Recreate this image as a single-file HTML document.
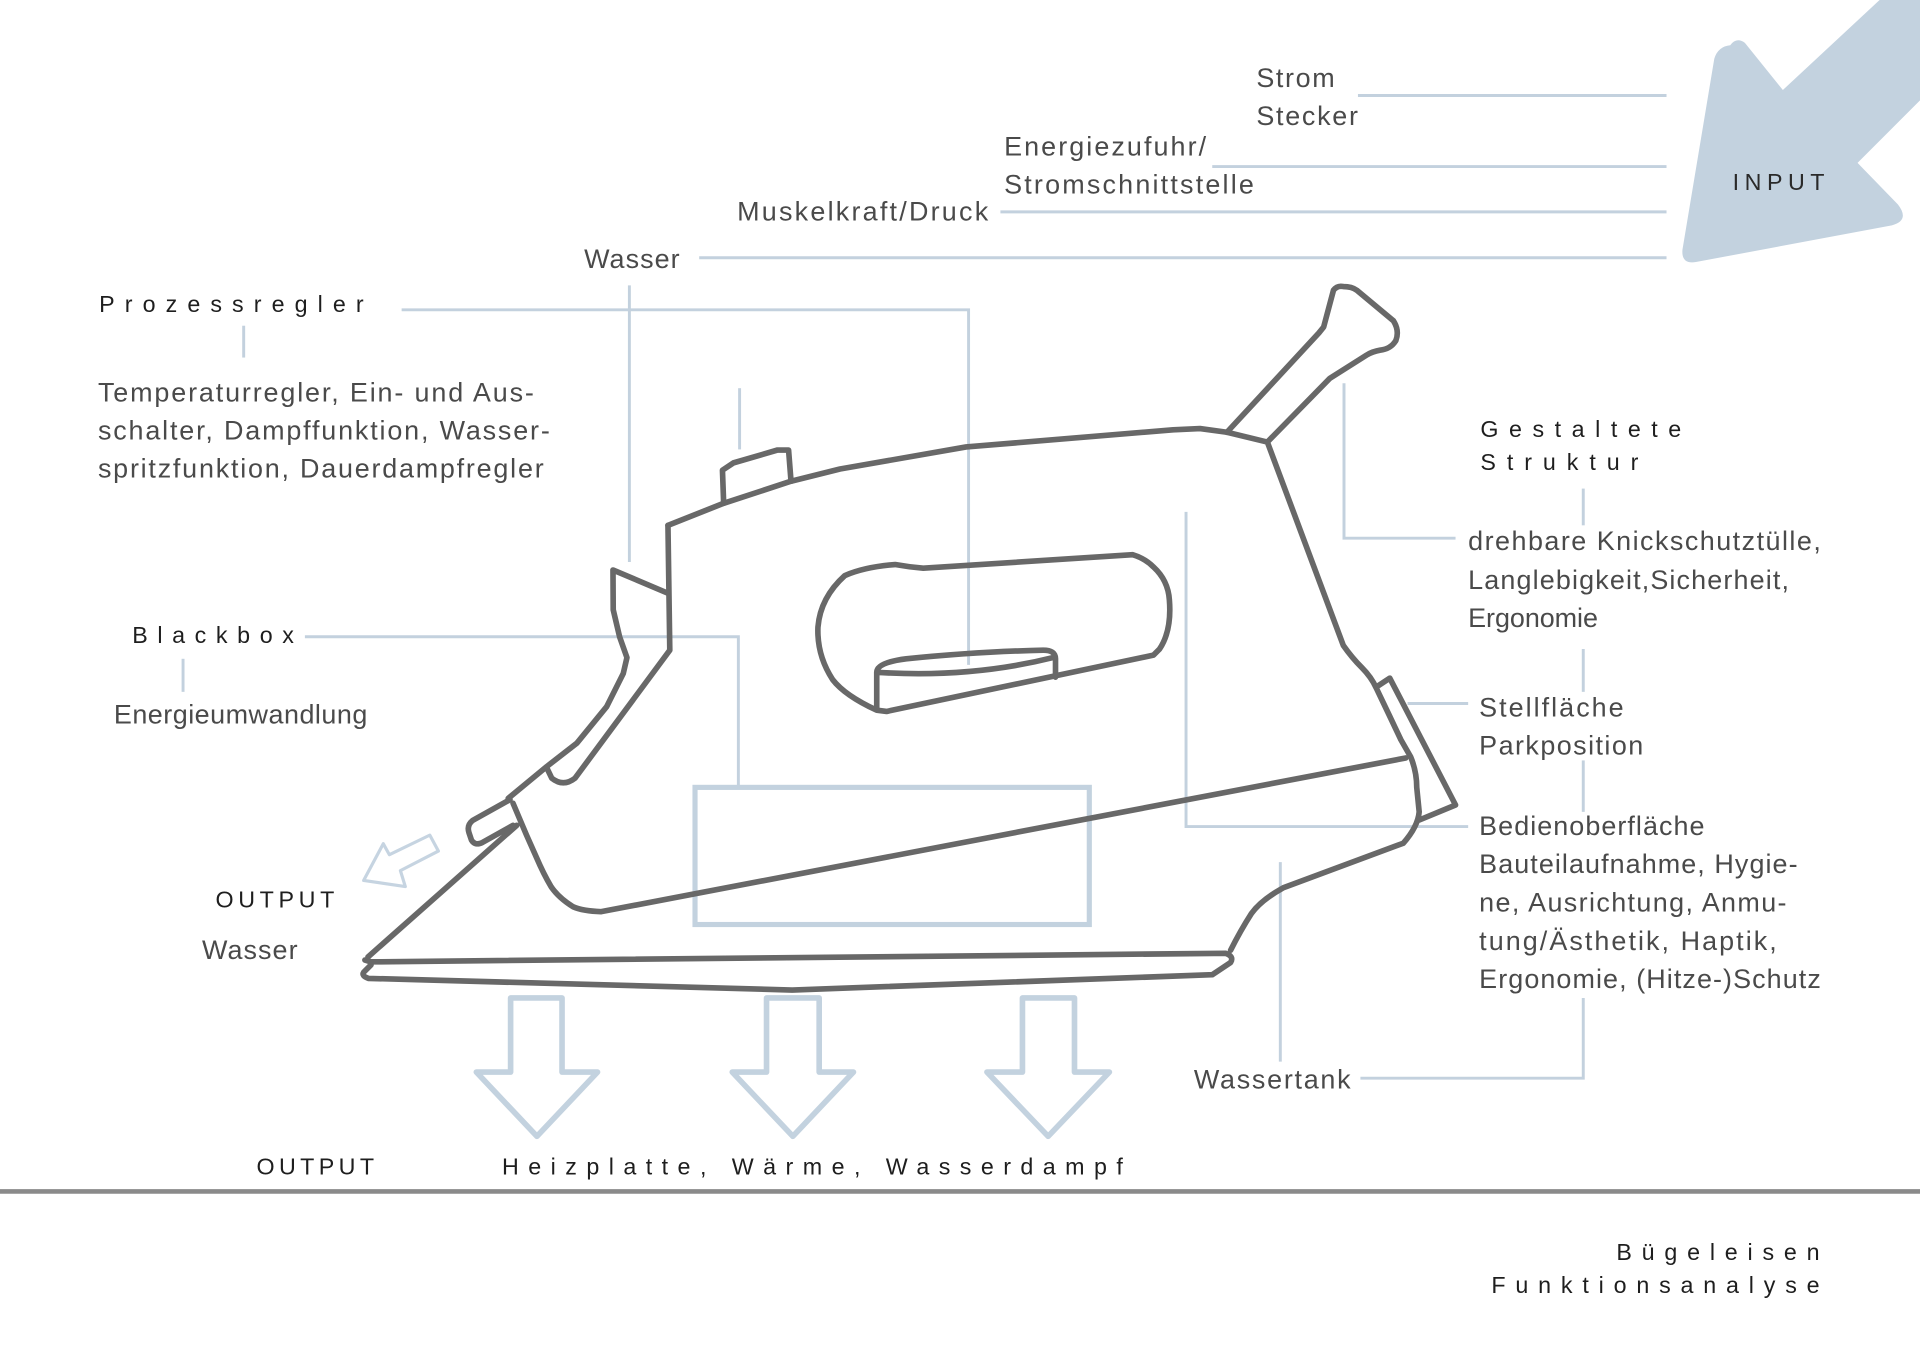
<!DOCTYPE html>
<html>
<head>
<meta charset="utf-8">
<style>
  html,body{margin:0;padding:0;background:#fff;}
  body{width:1920px;height:1358px;overflow:hidden;}
  svg{display:block;}
  .t{font-family:"Liberation Sans",sans-serif;font-size:22px;fill:#4a4a4a;}
  .h{font-family:"Liberation Sans",sans-serif;font-size:19px;fill:#1e1e1e;}
  .c{stroke:#c3d1de;stroke-width:2.4;fill:none;}
  .iron{stroke:#686868;stroke-width:4.6;fill:none;stroke-linejoin:round;stroke-linecap:round;}
  .ar{stroke:#c3d2df;stroke-width:4.6;fill:none;stroke-linejoin:round;}
</style>
</head>
<body>
<svg width="1920" height="1358" viewBox="0 0 1568 1109" preserveAspectRatio="none" xmlns="http://www.w3.org/2000/svg">
  <rect x="0" y="0" width="1568" height="1109" fill="#fff"/>

  <!-- INPUT arrow -->
  <path d="M1413,37 Q1418,30 1425,35 L1456,73.5 L1535,0 L1568,0 L1568,82 L1517,133 L1550,167 Q1560,180 1545,184 L1385,214 Q1373,216 1374,204 L1400,48 Q1403,38 1413,37 Z" fill="#c3d2df"/>
  <text class="h" x="1415" y="155" textLength="75" lengthAdjust="spacing" style="font-size:19px;fill:#2a2a2a">INPUT</text>

  <!-- Input lines -->
  <line class="c" x1="1109" y1="78" x2="1361" y2="78"/>
  <line class="c" x1="990" y1="136" x2="1361" y2="136"/>
  <line class="c" x1="817" y1="173" x2="1361" y2="173"/>
  <line class="c" x1="571" y1="210.5" x2="1361" y2="210.5"/>

  <!-- Input texts -->
  <text class="t" x="1026" y="71" textLength="64" lengthAdjust="spacing">Strom</text>
  <text class="t" x="1026" y="102" textLength="83" lengthAdjust="spacing">Stecker</text>
  <text class="t" x="820" y="127" textLength="165" lengthAdjust="spacing">Energiezufuhr/</text>
  <text class="t" x="820" y="158" textLength="204" lengthAdjust="spacing">Stromschnittstelle</text>
  <text class="t" x="602" y="180" textLength="205" lengthAdjust="spacing">Muskelkraft/Druck</text>
  <text class="t" x="477" y="219" textLength="78" lengthAdjust="spacing">Wasser</text>

  <!-- Wasser vertical -->
  <line class="c" x1="514" y1="233" x2="514" y2="459"/>

  <!-- Prozessregler -->
  <text class="h" x="81" y="255" textLength="216" lengthAdjust="spacing">Prozessregler</text>
  <line class="c" x1="199" y1="266" x2="199" y2="292"/>
  <polyline class="c" points="328,253 791,253 791,543"/>
  <text class="t" x="80" y="328" textLength="356" lengthAdjust="spacing">Temperaturregler, Ein- und Aus-</text>
  <text class="t" x="80" y="359" textLength="369" lengthAdjust="spacing">schalter, Dampffunktion, Wasser-</text>
  <text class="t" x="80" y="390" textLength="364" lengthAdjust="spacing">spritzfunktion, Dauerdampfregler</text>

  <!-- short vertical above button -->
  <line class="c" x1="604" y1="317" x2="604" y2="367"/>

  <!-- Blackbox -->
  <text class="h" x="108" y="525" textLength="132" lengthAdjust="spacing">Blackbox</text>
  <line class="c" x1="149.5" y1="538" x2="149.5" y2="565"/>
  <text class="t" x="93" y="591" textLength="207" lengthAdjust="spacing">Energieumwandlung</text>
  <polyline class="c" points="249,520 603,520 603,643"/>
  <rect x="567.6" y="643" width="322" height="112" fill="none" stroke="#c3d2df" stroke-width="4.2"/>

  <!-- Gestaltete Struktur -->
  <text class="h" x="1209" y="357" textLength="164" lengthAdjust="spacing">Gestaltete</text>
  <text class="h" x="1209" y="384" textLength="129" lengthAdjust="spacing">Struktur</text>
  <line class="c" x1="1293" y1="399" x2="1293" y2="429"/>
  <polyline class="c" points="1097.6,313 1097.6,439.5 1188.7,439.5"/>
  <text class="t" x="1199" y="449" textLength="288" lengthAdjust="spacing">drehbare Knickschutztülle,</text>
  <text class="t" x="1199" y="481" textLength="262" lengthAdjust="spacing">Langlebigkeit,Sicherheit,</text>
  <text class="t" x="1199" y="512" textLength="106" lengthAdjust="spacing">Ergonomie</text>
  <line class="c" x1="1293" y1="530" x2="1293" y2="565"/>

  <!-- Stellfläche -->
  <line class="c" x1="1149.5" y1="574.5" x2="1199" y2="574.5"/>
  <text class="t" x="1208" y="585" textLength="118" lengthAdjust="spacing">Stellfläche</text>
  <text class="t" x="1208" y="616" textLength="134" lengthAdjust="spacing">Parkposition</text>
  <line class="c" x1="1293" y1="621" x2="1293" y2="663"/>

  <!-- Bedienoberfläche -->
  <polyline class="c" points="968.6,418 968.6,675 1199,675"/>
  <text class="t" x="1208" y="682" textLength="184" lengthAdjust="spacing">Bedienoberfläche</text>
  <text class="t" x="1208" y="713" textLength="260" lengthAdjust="spacing">Bauteilaufnahme, Hygie-</text>
  <text class="t" x="1208" y="744.5" textLength="251" lengthAdjust="spacing">ne, Ausrichtung, Anmu-</text>
  <text class="t" x="1208" y="776" textLength="243" lengthAdjust="spacing">tung/Ästhetik, Haptik,</text>
  <text class="t" x="1208" y="807" textLength="279" lengthAdjust="spacing">Ergonomie, (Hitze-)Schutz</text>

  <!-- Wassertank -->
  <line class="c" x1="1045.6" y1="704" x2="1045.6" y2="867"/>
  <polyline class="c" points="1111,880.5 1293,880.5 1293,815"/>
  <text class="t" x="975" y="889" textLength="128" lengthAdjust="spacing">Wassertank</text>

  <!-- Output left -->
  <polygon points="297,719 313,689 318,698 351,682 358,695 327,711 331,724" fill="none" stroke="#c6d4e1" stroke-width="2.6" stroke-linejoin="round"/>
  <text class="h" x="176" y="741" textLength="97" lengthAdjust="spacing">OUTPUT</text>
  <text class="t" x="165" y="783" textLength="78" lengthAdjust="spacing">Wasser</text>

  <!-- Down arrows -->
  <path class="ar" d="M417,815 L459,815 L459,875.5 L488,875.5 L438.5,928 L389,875.5 L417,875.5 Z"/>
  <path class="ar" d="M626,815 L669,815 L669,875.5 L697,875.5 L647.5,928 L598,875.5 L626,875.5 Z"/>
  <path class="ar" d="M835,815 L877.5,815 L877.5,875.5 L906,875.5 L856,928 L806,875.5 L835,875.5 Z"/>

  <!-- Bottom output text -->
  <text class="h" x="209.5" y="959" textLength="96" lengthAdjust="spacing">OUTPUT</text>
  <text class="h" x="410" y="959" textLength="507" lengthAdjust="spacing">Heizplatte, Wärme, Wasserdampf</text>

  <!-- Rule -->
  <line x1="0" y1="973" x2="1568" y2="973" stroke="#8a8a8a" stroke-width="3.8"/>

  <!-- Title -->
  <text class="h" x="1320" y="1029" textLength="166" lengthAdjust="spacing">Bügeleisen</text>
  <text class="h" x="1218" y="1056" textLength="268" lengthAdjust="spacing">Funktionsanalyse</text>

  <!-- ===== IRON ===== -->
  <!-- body top + back -->
  <path class="iron" d="M545.5,429 L591,411 L646,393 L686,383 L789,365 L958,351 L980,350 L1002,353 L1035,361 L1097,527 Q1104,537 1112,545 Q1120,553 1124,562 L1135,585 L1144,604 L1152,618 Q1157,630 1157,643 L1159,663 Q1158,675 1146,688.6 L1048,725 Q1030,735 1022,746 Q1013,760 1005,776"/>
  <!-- soleplate -->
  <path class="iron" d="M1001,778.5 L303,785.5 L298,784 M1001,778.5 Q1008,781 1005,786 L990,796 L647,808.5 L301,799 Q295,797 297,794 L303,788"/>
  <!-- soleplate slope -->
  <path class="iron" d="M422,674 L300.5,781.5"/>
  <!-- body bottom line -->
  <path class="iron" d="M1148,619 L491,744.5 Q476,744 468,740.5 Q456,733 450,724 Q444,714 438,700 L430,682 L419,656"/>
  <!-- front vertical and inner diagonal -->
  <path class="iron" d="M545.5,429 L547,531 L469.6,635.5 Q460,643 450.6,635.5 L446.5,627"/>
  <!-- wedge and front left line -->
  <path class="iron" d="M545.6,484.5 L500.6,465.5 L500.8,498 L506,520 L512,537 L509,550 L495.5,577 L471,607 L446.5,626 L415,652"/>
  <!-- nozzle -->
  <path class="iron" d="M416.5,653 L386,670 Q381,674 383,680 L385,686 Q388,691 394,688 L419,674"/>
  <!-- button -->
  <path class="iron" d="M591,411 L590,384 L599,378 L635,367.5 L644,367.5 L646,393"/>
  <!-- handle -->
  <path class="iron" d="M731,461 Q742,463 754,464 L925,453 Q935,456 942,463 Q954,474 955,490 Q957,515 947,530 L942,535 L724,581 L716,580 Q690,568 680,555 Q667,535 668,512 Q670,488 690,470 Q706,463 731,461 Z"/>
  <!-- cylinder in handle -->
  <path class="iron" d="M716,549 L716,578 M716,549 Q716,541 740,538 Q800,532 852,531 Q862,531 862,538 L862,553 M716,549 Q792,554 860,537"/>
  <!-- cord guard -->
  <path class="iron" d="M1002,353 L1077,272 L1081,267 L1089,237 Q1092,233 1097,234 Q1104,234 1108,237 L1138,262 Q1143,270 1140,278 Q1136,285 1127,286 Q1121,287 1116,290 L1086,309 L1035,361"/>
  <!-- parking plate -->
  <path class="iron" d="M1124,561 L1135,553.8 L1188.7,657.4 L1159,669.7"/>
</svg>
</body>
</html>
